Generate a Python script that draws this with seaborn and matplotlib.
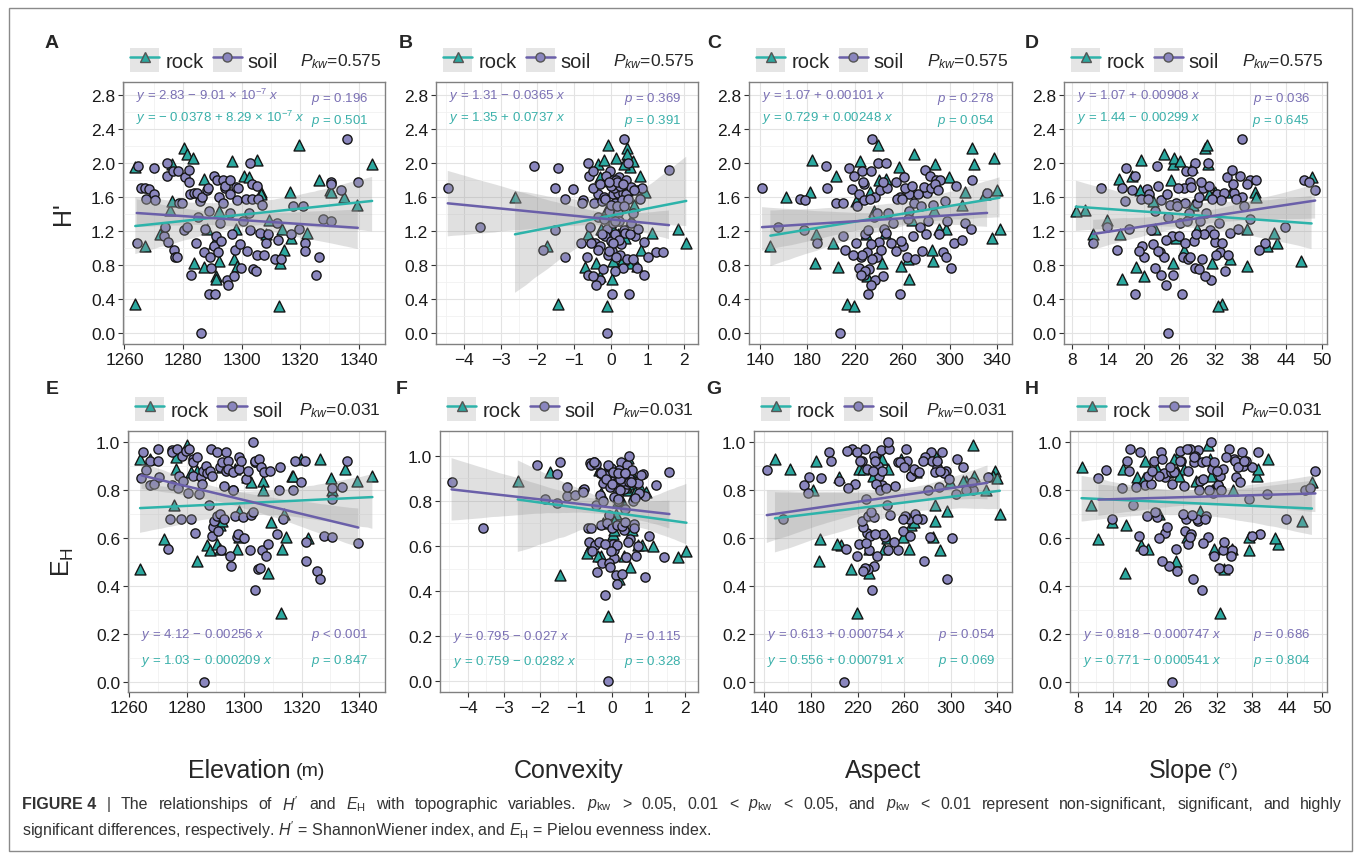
import matplotlib
matplotlib.use("Agg")
import matplotlib.pyplot as plt
from matplotlib.lines import Line2D
from matplotlib.patches import Patch, Rectangle
from matplotlib.ticker import FixedLocator, FormatStrFormatter
import numpy as np
import pandas as pd
import seaborn as sns

# ---- data: one row per plot (soil / rock) ----
soil_elev = [1264.2, 1264.6, 1265.6, 1267.0, 1267.3, 1268.5, 1270.0, 1270.0, 1270.4, 1273.4,
             1274.0, 1274.7, 1274.7, 1274.9, 1276.6, 1276.8, 1277.4, 1278.0, 1278.3, 1278.7,
             1279.7, 1280.5, 1280.6, 1281.4, 1282.0, 1282.0, 1282.3, 1282.7, 1283.7, 1284.3,
             1284.8, 1285.1, 1285.7, 1286.0, 1286.5, 1287.0, 1287.6, 1288.2, 1288.5, 1288.8,
             1288.8, 1289.1, 1289.6, 1290.5, 1290.5, 1291.0, 1291.4, 1291.7, 1291.9, 1292.2,
             1292.8, 1293.0, 1293.7, 1293.7, 1294.2, 1294.2, 1294.9, 1295.5, 1296.0, 1296.2,
             1296.2, 1296.8, 1297.4, 1297.7, 1298.0, 1298.3, 1298.7, 1299.4, 1299.9, 1300.6,
             1301.4, 1301.9, 1302.5, 1302.9, 1303.0, 1303.6, 1303.7, 1303.9, 1304.8, 1305.2,
             1305.4, 1305.7, 1306.2, 1307.0, 1307.7, 1308.2, 1309.1, 1311.3, 1312.0, 1312.6,
             1313.4, 1316.8, 1317.6, 1319.7, 1321.1, 1321.6, 1321.6, 1325.4, 1326.3, 1327.7,
             1330.5, 1330.5, 1330.7, 1333.9, 1335.9, 1339.7]
soil_H = [1.06, 1.96, 1.71, 1.71, 1.57, 1.69, 1.63, 1.94, 1.56, 1.14,
          1.25, 2.00, 1.85, 1.07, 1.90, 0.98, 0.90, 0.89, 1.90, 1.53,
          1.53, 1.21, 1.83, 1.25, 1.92, 1.77, 1.63, 0.68, 1.65, 1.06,
          1.65, 1.37, 1.55, 0.00, 1.60, 0.95, 1.22, 1.68, 1.70, 1.43,
          0.46, 0.90, 0.77, 1.02, 1.84, 0.46, 1.14, 1.80, 0.95, 1.60,
          1.29, 1.08, 1.53, 1.80, 1.71, 1.73, 0.63, 0.57, 1.64, 1.41,
          1.80, 1.16, 0.67, 0.98, 1.72, 1.56, 1.71, 1.05, 0.77, 1.32,
          1.58, 0.96, 1.41, 2.00, 1.21, 1.57, 1.75, 0.76, 0.73, 1.73,
          0.92, 1.58, 1.18, 1.51, 0.92, 1.06, 1.17, 0.87, 1.29, 1.09,
          0.87, 1.16, 1.49, 1.22, 1.49, 1.06, 0.96, 0.68, 0.90, 1.34,
          1.32, 1.77, 1.75, 1.68, 2.28, 1.78]
soil_E = [0.850, 0.961, 0.886, 0.920, 0.822, 0.826, 0.923, 0.972, 0.854, 0.555,
          0.680, 0.969, 0.961, 0.820, 0.972, 0.810, 0.860, 0.680, 0.944, 0.840,
          0.965, 0.790, 0.972, 0.680, 0.930, 0.917, 0.861, 0.620, 0.937, 0.784,
          0.854, 0.826, 0.880, 0.000, 0.900, 0.870, 0.736, 0.880, 0.972, 0.861,
          0.610, 0.645, 0.673, 0.694, 0.958, 0.631, 0.700, 0.896, 0.550, 0.917,
          0.819, 0.680, 0.878, 0.958, 0.923, 0.889, 0.527, 0.485, 0.875, 0.800,
          0.800, 0.694, 0.603, 0.617, 0.937, 0.889, 0.920, 0.687, 0.600, 0.847,
          0.882, 0.548, 0.697, 1.000, 0.708, 0.917, 0.923, 0.381, 0.471, 0.930,
          0.474, 0.896, 0.552, 0.875, 0.527, 0.576, 0.882, 0.617, 0.800, 0.896,
          0.680, 0.800, 0.923, 0.833, 0.923, 0.583, 0.506, 0.464, 0.430, 0.610,
          0.603, 0.810, 0.763, 0.812, 0.923, 0.580]
soil_conv = [-0.82, -2.08, -4.44, -1.52, -1.25, -1.04, -0.34, -1.45, -0.77, 0.65,
             -3.57, -0.62, -0.60, 0.90, -0.50, -1.86, -1.25, -0.66, -0.03, -0.80,
             -0.45, -1.52, 0.23, -0.58, 1.58, -0.12, 0.06, -0.63, 0.20, -0.44,
             0.32, -0.35, -0.25, -0.12, 0.45, 1.22, -0.10, 0.70, -0.50, -0.05,
             0.02, 1.01, 0.33, -0.30, -0.13, 0.50, -0.15, 0.07, 1.42, -0.20,
             0.05, 0.00, 0.11, 0.40, 0.09, 0.25, -0.29, -0.41, 0.41, 0.19,
             0.15, 0.12, -0.48, -0.36, 0.55, 0.30, 0.85, 0.28, 0.71, 0.21,
             0.46, 0.04, 0.60, 0.47, 0.35, 0.80, -0.31, -0.21, 0.10, 0.01,
             0.26, -0.16, 0.38, -0.01, -0.09, -0.55, 0.51, 0.44, 0.56, 0.22,
             0.61, -0.25, 0.16, 0.75, 0.36, 0.06, -0.06, 0.90, 0.14, -0.19,
             0.12, 0.17, 0.34, 0.62, 0.36, -0.04]
soil_asp = [188.5, 195.6, 142.0, 197.0, 174.0, 218.0, 223.8, 214.8, 178.0, 210.0,
            155.5, 240.0, 219.5, 240.7, 226.0, 212.0, 238.7, 264.0, 233.6, 204.0,
            210.5, 177.0, 261.9, 275.0, 279.6, 254.8, 265.5, 228.0, 280.8, 304.0,
            331.5, 236.0, 295.7, 208.0, 237.5, 294.5, 245.0, 241.0, 247.0, 266.0,
            231.0, 225.0, 224.0, 261.0, 283.1, 258.5, 269.0, 288.1, 230.0, 258.0,
            252.0, 259.0, 270.0, 292.1, 262.0, 268.0, 237.0, 233.6, 273.0, 239.0,
            319.1, 229.0, 243.5, 242.0, 278.0, 228.0, 284.0, 234.0, 301.0, 298.0,
            233.0, 255.0, 248.0, 246.3, 231.5, 256.0, 288.0, 232.0, 229.0, 305.0,
            226.0, 260.0, 246.0, 286.0, 219.0, 221.0, 291.0, 235.0, 312.6, 310.7,
            271.0, 280.0, 276.0, 318.0, 222.0, 251.0, 277.0, 225.0, 297.0, 265.0,
            282.0, 244.0, 227.5, 290.0, 234.5, 227.0]
soil_slp = [11.5, 22.3, 12.8, 16.4, 19.5, 20.6, 21.0, 17.0, 23.0, 24.8,
            13.9, 28.7, 18.6, 32.1, 27.2, 15.6, 20.0, 26.6, 28.2, 29.0,
            25.5, 31.2, 34.0, 43.8, 34.9, 27.9, 32.4, 23.0, 33.5, 40.5,
            35.2, 24.2, 16.8, 24.1, 36.5, 22.8, 17.5, 48.9, 26.8, 22.0,
            18.5, 23.4, 28.6, 19.8, 36.3, 26.5, 26.0, 38.0, 32.9, 29.3,
            26.2, 28.5, 27.0, 39.0, 30.0, 31.0, 31.4, 23.7, 24.0, 30.5,
            47.1, 30.1, 30.4, 39.4, 28.0, 33.0, 25.8, 21.6, 21.9, 29.5,
            20.7, 19.2, 27.6, 30.9, 21.3, 31.5, 35.0, 29.4, 33.8, 22.5,
            32.2, 35.5, 34.6, 24.5, 34.3, 27.0, 31.9, 27.5, 32.7, 23.8,
            29.8, 28.9, 37.0, 35.9, 25.6, 33.2, 22.4, 25.0, 27.8, 38.0,
            27.3, 47.9, 37.5, 18.0, 36.6, 29.6]

rock_elev = [1263.7, 1263.7, 1267.0, 1272.2, 1275.6, 1276.2, 1276.2, 1280.2, 1281.4, 1283.4,
             1283.7, 1287.0, 1287.3, 1288.2, 1290.5, 1291.4, 1291.4, 1292.2, 1292.2, 1296.8,
             1297.4, 1298.0, 1298.3, 1300.8, 1302.5, 1305.2, 1306.6, 1306.6, 1308.2, 1309.4,
             1312.8, 1313.1, 1313.7, 1314.5, 1316.6, 1316.8, 1319.7, 1322.3, 1326.5, 1330.3,
             1330.5, 1335.0, 1339.4, 1344.6]
rock_H = [1.95, 0.34, 1.02, 1.16, 1.45, 1.55, 1.99, 2.17, 2.10, 2.06,
          0.82, 0.78, 1.81, 1.22, 1.06, 0.67, 0.64, 0.85, 1.43, 2.02,
          0.87, 1.22, 0.79, 1.85, 1.83, 2.03, 1.66, 1.64, 1.16, 1.33,
          0.32, 0.83, 1.22, 0.98, 1.66, 1.12, 2.21, 1.18, 1.80, 1.68,
          1.66, 1.60, 1.51, 1.99]
rock_E = [0.930, 0.471, 0.930, 0.597, 0.740, 0.890, 0.937, 0.990, 0.875, 0.882,
          0.506, 0.569, 0.890, 0.550, 0.576, 0.555, 0.655, 0.673, 0.896, 0.889,
          0.555, 0.712, 0.603, 0.854, 0.833, 0.923, 0.840, 0.800, 0.456, 0.669,
          0.288, 0.555, 0.700, 0.606, 0.861, 0.861, 0.930, 0.600, 0.930, 0.850,
          0.800, 0.889, 0.840, 0.860]
rock_conv = [0.52, -1.43, -1.73, -0.62, 0.10, 0.08, -0.36, 0.44, 0.43, 0.14,
             0.50, -0.71, -0.10, 1.83, 2.05, -0.30, 0.02, 0.05, -0.14, 0.60,
             0.32, 0.06, 0.70, 0.79, -0.30, -0.20, 0.92, 0.27, 0.20, 0.55,
             -0.12, -0.40, -0.26, 0.83, 0.32, 0.38, -0.07, 1.13, 0.24, 0.43,
             0.15, -2.61, 0.64, 0.35]
rock_asp = [257.6, 213.9, 149.0, 187.7, 286.4, 221.0, 287.3, 318.7, 269.7, 337.5,
            186.5, 206.0, 246.3, 290.6, 202.0, 230.0, 266.0, 286.0, 235.9, 224.6,
            264.5, 297.0, 259.0, 204.0, 299.4, 184.3, 312.6, 330.0, 229.4, 268.0,
            219.5, 243.0, 342.0, 285.0, 232.8, 335.8, 240.0, 245.5, 240.7, 340.0,
            182.0, 162.3, 310.7, 320.1]
rock_slp = [28.2, 33.2, 40.8, 11.5, 10.2, 21.6, 25.0, 30.4, 23.5, 25.1,
            24.9, 18.8, 15.8, 37.4, 42.4, 20.0, 16.3, 46.6, 8.6, 26.2,
            34.6, 29.0, 37.5, 18.1, 48.3, 19.5, 32.1, 31.1, 16.0, 13.9,
            32.5, 31.5, 22.0, 26.8, 38.8, 25.4, 30.7, 41.9, 24.6, 19.4,
            34.7, 39.0, 28.3, 30.9]

# annotation texts per panel (A..H)
letters = ["A", "B", "C", "D", "E", "F", "G", "H"]
soil_eq = ["2.83 − 9.01 × $10^{-7}$", "1.31 − 0.0365", "1.07 + 0.00101", "1.07 + 0.00908",
           "4.12 − 0.00256", "0.795 − 0.027", "0.613 + 0.000754", "0.818 − 0.000747"]
rock_eq = ["− 0.0378 + 8.29 × $10^{-7}$", "1.35 + 0.0737", "0.729 + 0.00248", "1.44 − 0.00299",
           "1.03 − 0.000209", "0.759 − 0.0282", "0.556 + 0.000791", "0.771 − 0.000541"]
soil_p = ["= 0.196", "= 0.369", "= 0.278", "= 0.036", "< 0.001", "= 0.115", "= 0.054", "= 0.686"]
rock_p = ["= 0.501", "= 0.391", "= 0.054", "= 0.645", "= 0.847", "= 0.328", "= 0.069", "= 0.804"]
p_kw = ["0.575", "0.575", "0.575", "0.575", "0.031", "0.031", "0.031", "0.031"]

df = pd.concat([
    pd.DataFrame(dict(elev=rock_elev, conv=rock_conv, asp=rock_asp, slp=rock_slp,
                      H=rock_H, E=rock_E, type="rock")),
    pd.DataFrame(dict(elev=soil_elev, conv=soil_conv, asp=soil_asp, slp=soil_slp,
                      H=soil_H, E=soil_E, type="soil")),
], ignore_index=True)

# ---- style ----
sns.set_style("white")
plt.rcParams['font.family'] = ['Liberation Sans', 'DejaVu Sans']
plt.rcParams['mathtext.fontset'] = 'custom'
plt.rcParams['mathtext.rm'] = 'Liberation Sans'
plt.rcParams['mathtext.it'] = 'Liberation Sans:italic'
plt.rcParams['mathtext.bf'] = 'Liberation Sans:bold'

rock_fill, rock_line, rock_txt = "#2BA89F", "#2DB3AA", "#3AB0AA"
soil_fill, soil_line, soil_txt = "#8A86BE", "#6A5FA9", "#7A70B4"

W, H = 1355, 854
fig = plt.figure(figsize=(W / 100, H / 100), dpi=100)
fig.patch.set_facecolor("white")

boxes = [(123, 83, 385, 345), (436, 83, 698, 345), (749, 83, 1012, 345), (1064, 83, 1327, 345),
         (128, 432, 385, 693), (440, 432, 698, 693), (754, 432, 1012, 693), (1070, 432, 1327, 693)]
xvars = ["elev", "conv", "asp", "slp"]
xlims = {"elev": (1259.5, 1349), "conv": (-4.76, 2.37), "asp": (131, 352.5), "slp": (6.6, 50.9)}
xmaj = {"elev": np.arange(1260, 1341, 20), "conv": np.arange(-4, 3, 1),
        "asp": np.arange(140, 341, 40), "slp": np.arange(8, 51, 6)}
xmin = {"elev": np.arange(1270, 1341, 20), "conv": np.arange(-4.5, 2.6, 1),
        "asp": np.arange(160, 341, 40), "slp": np.arange(11, 51, 6)}
letter_x = [52, 406, 714, 1032, 52, 402, 714, 1032]

for i, let in enumerate(letters):
    xv = xvars[i % 4]
    yv = "H" if i < 4 else "E"
    l, t, r, b = boxes[i]
    ax = fig.add_axes([l / W, 1 - b / H, (r - l) / W, (b - t) / H])
    ax.set_axisbelow(True)

    sns.scatterplot(data=df[df.type == "rock"], x=xv, y=yv, marker="^", s=62, color=rock_fill,
                    edgecolor="#151515", linewidth=1.0, ax=ax, zorder=2, legend=False)
    sns.scatterplot(data=df[df.type == "soil"], x=xv, y=yv, marker="o", s=44, color=soil_fill,
                    edgecolor="#151515", linewidth=1.0, ax=ax, zorder=2, legend=False)
    for grp, lc in (("rock", rock_line), ("soil", soil_line)):
        n0 = len(ax.collections)
        sns.regplot(data=df[df.type == grp], x=xv, y=yv, scatter=False, ax=ax, color="#9a9a9a",
                    seed=7, line_kws=dict(color=lc, lw=1.8, zorder=4))
        for c in ax.collections[n0:]:
            c.set_facecolor("#9a9a9a")
            c.set_edgecolor("none")
            c.set_alpha(0.3)
            c.set_zorder(3)

    ax.set_xlim(*xlims[xv])
    if i < 4:
        ax.set_ylim(-0.126, 2.949)
        ax.yaxis.set_major_locator(FixedLocator(np.arange(0, 2.81, 0.4)))
        ax.yaxis.set_minor_locator(FixedLocator(np.arange(0.2, 2.81, 0.4)))
        ey, py = (2.80, 2.54), (2.76, 2.50)
    else:
        ax.set_ylim(-0.047, 1.11) if xv == "conv" else ax.set_ylim(-0.043, 1.047)
        ax.yaxis.set_major_locator(FixedLocator(np.arange(0, 1.01, 0.2)))
        ax.yaxis.set_minor_locator(FixedLocator(np.arange(0.1, 1.0, 0.2)))
        ey, py = (0.20, 0.092), (0.20, 0.092)
    ax.yaxis.set_major_formatter(FormatStrFormatter("%.1f"))
    ax.xaxis.set_major_locator(FixedLocator(xmaj[xv]))
    ax.xaxis.set_minor_locator(FixedLocator(xmin[xv]))
    ax.set_xlabel("")
    ax.set_ylabel("")

    ax.grid(True, which="major", color="#E3E3E3", lw=0.8)
    ax.grid(True, which="minor", color="#F1F1F1", lw=0.6)
    ax.tick_params(which="major", bottom=True, left=True, direction="out", length=3.5, width=0.8,
                   color="#333333", labelsize=12.5, labelcolor="#1a1a1a", pad=2)
    ax.tick_params(which="minor", length=0)
    for s in ax.spines.values():
        s.set_color("#808080")
        s.set_linewidth(1.0)

    # equations and p values
    ax.text(0.05, ey[0], rf"$y$ = {soil_eq[i]} $x$", transform=ax.get_yaxis_transform(),
            color=soil_txt, fontsize=9.5, va="center", ha="left", zorder=5)
    ax.text(0.05, ey[1], rf"$y$ = {rock_eq[i]} $x$", transform=ax.get_yaxis_transform(),
            color=rock_txt, fontsize=9.5, va="center", ha="left", zorder=5)
    ax.text(0.935, py[0], rf"$p$ {soil_p[i]}", transform=ax.get_yaxis_transform(),
            color=soil_txt, fontsize=9.5, va="center", ha="right", zorder=5)
    ax.text(0.935, py[1], rf"$p$ {rock_p[i]}", transform=ax.get_yaxis_transform(),
            color=rock_txt, fontsize=9.5, va="center", ha="right", zorder=5)

    # legend above the panel
    rock_h = (Patch(facecolor="#E5E5E5", edgecolor="none"),
              Line2D([0], [0], color=rock_line, lw=1.8, marker="^", markersize=7,
                     markerfacecolor=rock_fill, markeredgecolor="#555555"))
    soil_h = (Patch(facecolor="#E5E5E5", edgecolor="none"),
              Line2D([0], [0], color=soil_line, lw=1.8, marker="o", markersize=6.5,
                     markerfacecolor=soil_fill, markeredgecolor="#555555"))
    ax.legend(handles=[rock_h, soil_h], labels=["rock", "soil"], loc="center left",
              bbox_to_anchor=(0.027, 1 + 22 / (b - t)), ncol=2, frameon=False, fontsize=14.5,
              handlelength=1.45, handleheight=1.5, handletextpad=0.3, columnspacing=0.45,
              borderaxespad=0, borderpad=0)
    ax.text(0.985, 1 + 21 / (b - t), rf"$P_{{kw}}$=" + p_kw[i], transform=ax.transAxes,
            ha="right", va="center", fontsize=12.5)

    fig.text(letter_x[i] / W, 1 - (43 if i < 4 else 390) / H, let, fontsize=14,
             fontweight="bold", ha="center", va="center")

# y axis titles
fig.text(63 / W, 1 - 214 / H, "H'", rotation=90, fontsize=18, ha="center", va="center")
fig.text(63 / W, 1 - 562 / H, r"E$_{\mathrm{H}}$", rotation=90, fontsize=18, ha="center", va="center")

# x axis titles
rend = fig.canvas.get_renderer()
for cx, main, unit in ((256, "Elevation", "(m)"), (569, "Convexity", None),
                       (883, "Aspect", None), (1198, "Slope", "(°)")):
    shift = 17 if unit else 0
    t1 = fig.text((cx - shift) / W, 1 - 771 / H, main, fontsize=18, ha="center", va="center")
    if unit:
        bb = t1.get_window_extent(rend)
        fig.text((bb.x1 + 5) / W, 1 - 772 / H, unit, fontsize=14, ha="left", va="center")

# caption; first line is justified to the full width
cap1 = (r"The relationships of $H'$ and $E_{\mathrm{H}}$ with topographic "
        r"variables. $p_{\mathrm{kw}}$ > 0.05, 0.01 < $p_{\mathrm{kw}}$ < 0.05, and $p_{\mathrm{kw}}$ < 0.01 "
        r"represent non-significant, significant, and highly")
cap2 = (r"significant differences, respectively. $H'$ = ShannonWiener index, and "
        r"$E_{\mathrm{H}}$ = Pielou evenness index.")
tokens = [("FIGURE 4", "bold"), ("|", "normal")] + [(w, "normal") for w in cap1.split(" ")]
x0, x1 = 22, 1342
tw = []
for w, fw in tokens:
    tt = fig.text(0, 0, w, fontsize=11.5, fontweight=fw)
    tw.append(tt.get_window_extent(rend).width)
    tt.remove()
gap = (x1 - x0 - sum(tw)) / (len(tokens) - 1)
xx = x0
for (w, fw), wd in zip(tokens, tw):
    fig.text(xx / W, 1 - 805 / H, w, fontsize=11.5, fontweight=fw, color="#333333",
             ha="left", va="center")
    xx += wd + gap
fig.text(x0 / W, 1 - 830 / H, cap2, fontsize=11.5, color="#333333", ha="left", va="center")

# outer frame
fig.patches.append(Rectangle((9 / W, 1 - 852 / H), (1352 - 9) / W, (852 - 9) / H,
                             transform=fig.transFigure, fill=False, edgecolor="#8a8a8a", lw=1.0))

fig.savefig("out.png", dpi=100)
